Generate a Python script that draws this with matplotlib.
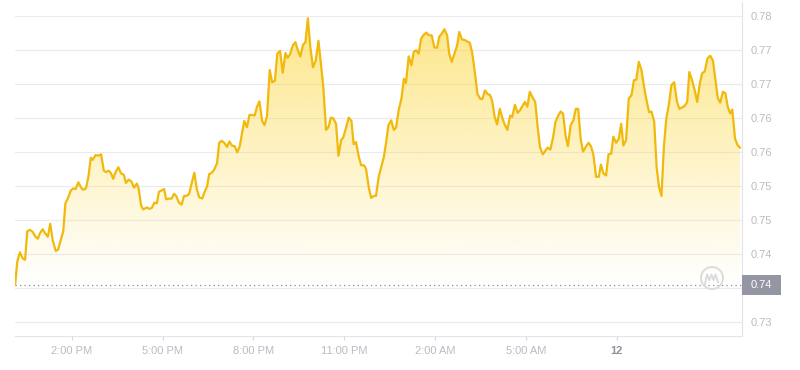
import numpy as np
import matplotlib
matplotlib.use('Agg')
import matplotlib.pyplot as plt
from matplotlib import transforms
from matplotlib.patches import Rectangle, Ellipse
from matplotlib.lines import Line2D

plt.rcParams['font.family'] = ['Liberation Sans', 'DejaVu Sans']

# hours since 12:00 PM (5 min samples)
times = [0.13, 0.20, 0.29, 0.38, 0.46, 0.53, 0.62, 0.71, 0.80, 0.88, 0.95, 1.04, 1.12, 1.21, 1.29, 1.37, 1.47, 1.55, 1.64, 1.72,
         1.79, 1.87, 1.97, 2.05, 2.13, 2.22, 2.31, 2.38, 2.47, 2.55, 2.63, 2.69, 2.79, 2.88, 2.97, 3.06, 3.13, 3.22, 3.30, 3.37,
         3.46, 3.54, 3.63, 3.72, 3.79, 3.88, 3.97, 4.06, 4.15, 4.21, 4.29, 4.36, 4.48, 4.56, 4.64, 4.73, 4.81, 4.88, 4.97, 5.05,
         5.12, 5.21, 5.30, 5.38, 5.45, 5.54, 5.63, 5.71, 5.80, 5.88, 5.97, 6.05, 6.13, 6.21, 6.31, 6.39, 6.47, 6.54, 6.63, 6.71,
         6.80, 6.87, 6.95, 7.04, 7.13, 7.21, 7.29, 7.38, 7.47, 7.55, 7.62, 7.70, 7.79, 7.87, 7.96, 8.04, 8.12, 8.20, 8.29, 8.37,
         8.45, 8.54, 8.62, 8.71, 8.79, 8.88, 8.97, 9.06, 9.13, 9.21, 9.30, 9.39, 9.47, 9.55, 9.64, 9.72, 9.80, 9.88, 9.97, 10.06,
         10.15, 10.22, 10.31, 10.40, 10.48, 10.56, 10.64, 10.73, 10.81, 10.90, 10.97, 11.06, 11.15, 11.24, 11.31, 11.39, 11.48, 11.56, 11.65, 11.72,
         11.81, 11.89, 11.98, 12.05, 12.14, 12.22, 12.31, 12.38, 12.46, 12.55, 12.64, 12.71, 12.80, 12.89, 12.97, 13.04, 13.13, 13.22, 13.30, 13.38,
         13.46, 13.54, 13.63, 13.71, 13.80, 13.89, 13.98, 14.07, 14.14, 14.23, 14.31, 14.40, 14.47, 14.55, 14.64, 14.73, 14.80, 14.89, 14.98, 15.06,
         15.15, 15.23, 15.32, 15.40, 15.49, 15.56, 15.65, 15.73, 15.82, 15.89, 15.97, 16.05, 16.14, 16.22, 16.30, 16.39, 16.48, 16.55, 16.64, 16.73,
         16.81, 16.90, 16.97, 17.05, 17.13, 17.22, 17.31, 17.39, 17.47, 17.56, 17.64, 17.72, 17.81, 17.90, 17.98, 18.07, 18.15, 18.23, 18.31, 18.39,
         18.48, 18.57, 18.65, 18.73, 18.81, 18.89, 18.98, 19.07, 19.15, 19.23, 19.32, 19.41, 19.48, 19.56, 19.65, 19.73, 19.82, 19.89, 19.98, 20.07,
         20.15, 20.22, 20.31, 20.40, 20.49, 20.57, 20.65, 20.73, 20.82, 20.91, 20.98, 21.07, 21.15, 21.24, 21.32, 21.40, 21.48, 21.56, 21.64, 21.72,
         21.81, 21.90, 21.99, 22.07, 22.16, 22.24, 22.33, 22.40, 22.49, 22.58, 22.66, 22.75, 22.82, 22.91, 23.00, 23.09, 23.18, 23.25, 23.34, 23.42,
         23.51, 23.59, 23.67, 23.75, 23.82, 23.91, 23.99, 24.07]

prices = [0.7380, 0.7414, 0.7428, 0.7419, 0.7417, 0.7459, 0.7461, 0.7458, 0.7451, 0.7448, 0.7456, 0.7462, 0.7456, 0.7451, 0.7470, 0.7446, 0.7430, 0.7432, 0.7446, 0.7459,
          0.7500, 0.7507, 0.7519, 0.7522, 0.7521, 0.7531, 0.7523, 0.7520, 0.7522, 0.7539, 0.7567, 0.7564, 0.7571, 0.7570, 0.7572, 0.7548, 0.7546, 0.7548, 0.7544, 0.7536,
          0.7547, 0.7553, 0.7544, 0.7542, 0.7530, 0.7535, 0.7532, 0.7523, 0.7529, 0.7522, 0.7497, 0.7491, 0.7494, 0.7492, 0.7493, 0.7501, 0.7500, 0.7517, 0.7519, 0.7521,
          0.7506, 0.7507, 0.7507, 0.7514, 0.7511, 0.7501, 0.7498, 0.7511, 0.7511, 0.7514, 0.7531, 0.7545, 0.7521, 0.7509, 0.7507, 0.7517, 0.7525, 0.7543, 0.7545, 0.7550,
          0.7559, 0.7589, 0.7592, 0.7589, 0.7583, 0.7591, 0.7585, 0.7584, 0.7575, 0.7584, 0.7602, 0.7621, 0.7612, 0.7630, 0.7630, 0.7629, 0.7642, 0.7650, 0.7621, 0.7615,
          0.7628, 0.7696, 0.7678, 0.7680, 0.7720, 0.7724, 0.7692, 0.7721, 0.7714, 0.7719, 0.7732, 0.7737, 0.7725, 0.7716, 0.7733, 0.7737, 0.7772, 0.7730, 0.7700, 0.7710,
          0.7739, 0.7710, 0.7671, 0.7608, 0.7612, 0.7626, 0.7625, 0.7617, 0.7570, 0.7593, 0.7597, 0.7611, 0.7626, 0.7621, 0.7587, 0.7590, 0.7569, 0.7556, 0.7556, 0.7551,
          0.7524, 0.7508, 0.7511, 0.7511, 0.7539, 0.7553, 0.7568, 0.7588, 0.7615, 0.7622, 0.7608, 0.7611, 0.7637, 0.7654, 0.7683, 0.7677, 0.7716, 0.7703, 0.7723, 0.7725,
          0.7720, 0.7742, 0.7748, 0.7751, 0.7747, 0.7747, 0.7729, 0.7729, 0.7745, 0.7750, 0.7756, 0.7747, 0.7720, 0.7708, 0.7720, 0.7732, 0.7752, 0.7741, 0.7740, 0.7738,
          0.7736, 0.7721, 0.7691, 0.7661, 0.7654, 0.7653, 0.7666, 0.7661, 0.7659, 0.7650, 0.7627, 0.7616, 0.7639, 0.7626, 0.7616, 0.7608, 0.7629, 0.7627, 0.7645, 0.7633,
          0.7637, 0.7644, 0.7649, 0.7642, 0.7664, 0.7656, 0.7649, 0.7612, 0.7582, 0.7572, 0.7577, 0.7582, 0.7579, 0.7597, 0.7620, 0.7629, 0.7635, 0.7632, 0.7600, 0.7584,
          0.7615, 0.7622, 0.7639, 0.7639, 0.7595, 0.7576, 0.7583, 0.7589, 0.7584, 0.7572, 0.7539, 0.7539, 0.7557, 0.7544, 0.7541, 0.7572, 0.7573, 0.7598, 0.7589, 0.7595,
          0.7617, 0.7585, 0.7593, 0.7654, 0.7659, 0.7681, 0.7682, 0.7708, 0.7696, 0.7670, 0.7653, 0.7634, 0.7635, 0.7620, 0.7553, 0.7524, 0.7511, 0.7583, 0.7625, 0.7644,
          0.7674, 0.7678, 0.7650, 0.7639, 0.7641, 0.7643, 0.7649, 0.7693, 0.7681, 0.7666, 0.7649, 0.7677, 0.7691, 0.7694, 0.7713, 0.7717, 0.7710, 0.7686, 0.7655, 0.7648,
          0.7664, 0.7662, 0.7642, 0.7632, 0.7638, 0.7595, 0.7586, 0.7582]

x_ticks = [2, 5, 8, 11, 14, 17, 20]
x_labels = ['2:00 PM', '5:00 PM', '8:00 PM', '11:00 PM', '2:00 AM', '5:00 AM', '12']
y_ticks = [0.7325, 0.7375, 0.7425, 0.7475, 0.7525, 0.7575, 0.7625, 0.7675, 0.7725, 0.7775]
y_labels = ['0.73', '', '0.74', '0.75', '0.75', '0.76', '0.76', '0.77', '0.77', '0.78']
base_label = '0.74'

LINE = '#f0b90b'
GRID = '#ebebef'
TXT = '#b8bcc3'

fig = plt.figure(figsize=(8, 3.7), dpi=100)
ax = fig.add_axes([15/800, 34/370, 727/800, 334/370])
ax.set_xlim(0.126, 24.14)
ax.set_ylim(0.7305, 0.7796)

base = prices[0]

# gradient fill under the line, clipped to the area
fill = ax.fill_between(times, prices, base, facecolor='none', edgecolor='none')
grad = np.linspace(0, 1, 256)
rgba = np.zeros((256, 1, 4))
rgba[:, 0, 0] = 252/255
rgba[:, 0, 1] = 213/255
rgba[:, 0, 2] = 53/255
rgba[:, 0, 3] = 0.62 * grad
img = ax.imshow(rgba, extent=[0.126, 24.14, base, 0.7796], origin='lower',
                aspect='auto', zorder=1, interpolation='bilinear')
img.set_clip_path(fill.get_paths()[0], transform=ax.transData)

ax.plot(times, prices, color=LINE, lw=1.6, zorder=3, solid_joinstyle='round')
ax.axhline(base, color='#8c8c8c', lw=0.9, ls=(0, (1, 2.6)), zorder=2)

ax.set_xticks(x_ticks)
ax.set_xticklabels(x_labels)
for lab in ax.get_xticklabels():
    lab.set_color(TXT)
    lab.set_fontsize(8)
ax.get_xticklabels()[-1].set_color('#8e929a')
ax.get_xticklabels()[-1].set_fontweight('bold')
ax.tick_params(axis='x', length=3, color='#d6d8dd', pad=4)

ax.yaxis.tick_right()
ax.set_yticks(y_ticks)
ax.set_yticklabels(y_labels)
ax.tick_params(axis='y', length=0, pad=6.5, labelsize=8, labelcolor=TXT)
ax.yaxis.grid(True, color=GRID, lw=0.8)
ax.set_axisbelow(True)

for s in ['left', 'top']:
    ax.spines[s].set_visible(False)
for s in ['bottom', 'right']:
    ax.spines[s].set_color('#e3e4e8')
    ax.spines[s].set_linewidth(0.8)

# price badge on the right axis
trans = transforms.blended_transform_factory(ax.transAxes, ax.transData)
ax.add_patch(Rectangle((1.0, base - 0.0014), 39/727, 0.0028, transform=trans,
                       facecolor='#9497a3', edgecolor='none', clip_on=False, zorder=5))
ax.text(1.0 + 19.5/727, base, base_label, transform=trans, ha='center', va='center',
        color='white', fontsize=8, zorder=6, clip_on=False)

# watermark logo
fig.add_artist(Ellipse((712/800, 1 - 278/370), 22/800, 22/370, transform=fig.transFigure,
                       facecolor='none', edgecolor='#dcdcdc', lw=1.4))
fig.add_artist(Line2D(np.array([705, 707, 709.5, 711.5, 713.5, 715.5, 718]) / 800,
                      1 - np.array([284, 274.5, 280, 274.5, 280, 274.5, 282]) / 370,
                      transform=fig.transFigure, color='#dcdcdc', lw=1.4))

fig.savefig('out.png', dpi=100)
